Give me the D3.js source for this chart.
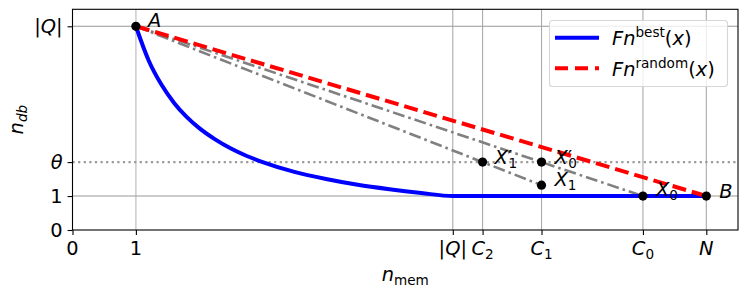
<!DOCTYPE html>
<html>
<head>
<meta charset="utf-8">
<script src="https://cdn.jsdelivr.net/npm/d3@7"></script>
<style>
  html, body { margin: 0; padding: 0; background: #fff; }
  svg text { font-family: "DejaVu Sans", sans-serif; fill: #000; }
</style>
</head>
<body>
<svg id="chart" width="748" height="295"></svg>
<script>
// ---------------- data ----------------
const xTickValues = [0, 1, 6, 6.47, 7.4, 9, 10];
const xTickLabels = ["0", "1", "|Q|", "C_2", "C_1", "C_0", "N"];
const yTickValues = [0, 1, 2, 6];
const yTickLabels = ["0", "1", "\\theta", "|Q|"];
const xDomain = [0, 10.5];
const yDomain = [0, 6.5];
const thetaValue = 2;

// Fn^best(x)
const bestX = [1, 1.2, 1.4, 1.6, 1.8, 2, 2.25, 2.5, 2.75, 3, 3.5, 4, 4.5, 5, 5.5, 6, 10];
const bestY = [6, 5, 4.29, 3.75, 3.33, 3, 2.67, 2.4, 2.18, 2, 1.71, 1.5, 1.33, 1.2, 1.09, 1, 1];
// Fn^random(x)
const randomX = [1, 10];
const randomY = [6, 1];
// grey dash-dot chords
const chord1X = [1, 9];
const chord1Y = [6, 1];
const chord2X = [1, 7.4];
const chord2Y = [6, 1.32];

// named points
const pointNames = ["A", "B", "X_0", "X'_0", "X_1", "X'_1"];
const pointX = [1, 10, 9, 7.4, 7.4, 6.47];
const pointY = [6, 1, 1, 2, 1.32, 2];

const legendLabels = ["Fn^{\\mathrm{best}}(x)", "Fn^{\\mathrm{random}}(x)"];
const xLabel = "n_{\\mathrm{mem}}";
const yLabel = "n_{db}";

// ---------------- layout ----------------
const plot = { left: 72.5, right: 738, top: 9.3, bottom: 230 };
const FS = 19.4;

const svg = d3.select("#chart");
const x = d3.scaleLinear().domain(xDomain).range([plot.left, plot.right]);
const y = d3.scaleLinear().domain(yDomain).range([plot.bottom, plot.top]);

// --- mini mathtext parser -> segments {t, italic, shift}
function parseMath(s) {
  const segs = [];
  let i = 0;
  function closeBrace(str, k) {
    let depth = 1, j = k + 1;
    while (j < str.length && depth > 0) { if (str[j] === "{") depth++; if (str[j] === "}") depth--; j++; }
    return j;
  }
  function readGroup() {
    if (s[i] === "{") { const j = closeBrace(s, i); const g = s.slice(i + 1, j - 1); i = j; return g; }
    if (s[i] === "\\") {
      let j = i + 1; while (j < s.length && /[a-zA-Z]/.test(s[j])) j++;
      const g = s.slice(i, j); i = j; return g;
    }
    const g = s[i]; i++; return g;
  }
  function emit(str, shift) {
    let k = 0;
    while (k < str.length) {
      if (str.startsWith("\\mathrm", k)) {
        k += 7; const j = closeBrace(str, k);
        segs.push({ t: str.slice(k + 1, j - 1), italic: false, shift });
        k = j; continue;
      }
      if (str.startsWith("\\theta", k)) { segs.push({ t: "θ", italic: true, shift }); k += 6; continue; }
      const c = str[k];
      segs.push({ t: c, italic: /[a-zA-Z]/.test(c), shift });
      k++;
    }
  }
  while (i < s.length) {
    const c = s[i];
    if (c === "_" || c === "^") {
      i++; const g = readGroup(); emit(g, c === "_" ? "sub" : "sup");
    } else if (c === "'") {
      segs.push({ t: "′", italic: false, shift: "prime" }); i++;
    } else if (s.startsWith("\\theta", i)) {
      emit("\\theta", null); i += 6;
    } else if (s.startsWith("\\mathrm", i)) {
      const start = i; i += 7; i = closeBrace(s, i); emit(s.slice(start, i), null);
    } else { emit(c, null); i++; }
  }
  return segs;
}

function mathText(sel, str, size) {
  const segs = parseMath(str);
  let cur = 0;
  let primeW = 0;
  segs.forEach(seg => {
    let target = 0, fs = size, dx = 0;
    if (seg.shift === "sub") { target = 0.2 * size; fs = 0.7 * size; if (primeW) dx = -primeW; }
    else if (seg.shift === "sup") { target = -0.4 * size; fs = 0.7 * size; }
    else if (seg.shift === "prime") { target = -0.02 * size; fs = size; }
    const ts = sel.append("tspan")
      .attr("dy", (target - cur).toFixed(2))
      .style("font-size", fs + "px")
      .style("font-style", seg.italic ? "italic" : "normal")
      .text(seg.t);
    if (dx) ts.attr("dx", dx.toFixed(2));
    cur = target;
    primeW = seg.shift === "prime" ? 0.2 * size : 0;
  });
  return sel;
}

// ---------------- grid / reference lines ----------------
const g = svg.append("g");

xTickValues.forEach((v, i) => {
  if (v === 0) return;
  g.append("line")
    .attr("x1", x(v)).attr("x2", x(v))
    .attr("y1", plot.top).attr("y2", plot.bottom)
    .attr("stroke", i === 1 ? "#cfcfcf" : "#aaaaaa")
    .attr("stroke-width", i === 1 ? 1.6 : 1.1);
});
[1, 6].forEach(v => {
  g.append("line")
    .attr("x1", plot.left).attr("x2", plot.right)
    .attr("y1", y(v)).attr("y2", y(v))
    .attr("stroke", "#999999").attr("stroke-width", 1.1);
});
g.append("line")
  .attr("x1", plot.left).attr("x2", plot.right)
  .attr("y1", y(thetaValue)).attr("y2", y(thetaValue))
  .attr("stroke", "#9a9a9a").attr("stroke-width", 2.2)
  .attr("stroke-dasharray", "2.2,3.4");

// ---------------- series ----------------
const line = d3.line().x(d => x(d[0])).y(d => y(d[1]));
const zip = (a, b) => a.map((v, i) => [v, b[i]]);

[[chord1X, chord1Y], [chord2X, chord2Y]].forEach(([cx, cy]) => {
  g.append("path").datum(zip(cx, cy)).attr("d", line)
    .attr("fill", "none").attr("stroke", "#808080").attr("stroke-width", 2.6)
    .attr("stroke-dasharray", "12,4,2.6,4");
});

g.append("path").datum(zip(bestX, bestY))
  .attr("d", d3.line().x(d => x(d[0])).y(d => y(d[1])).curve(d3.curveMonotoneX))
  .attr("fill", "none").attr("stroke", "#0000ff").attr("stroke-width", 4);

g.append("path").datum(zip(randomX, randomY)).attr("d", line)
  .attr("fill", "none").attr("stroke", "#ff0000").attr("stroke-width", 4)
  .attr("stroke-dasharray", "14,6");

// ---------------- points ----------------
const labelOffsets = { "A": [12, 1], "B": [13, 2], "X_0": [13, 0], "X'_0": [13, 2], "X_1": [13, 1], "X'_1": [12, 2] };
pointNames.forEach((n, i) => {
  g.append("circle").attr("cx", x(pointX[i])).attr("cy", y(pointY[i])).attr("r", 4.6).attr("fill", "#000");
  const off = labelOffsets[n];
  const t = g.append("text").attr("x", x(pointX[i]) + off[0]).attr("y", y(pointY[i]) + off[1]);
  mathText(t, n, FS);
});

// ---------------- axes ----------------
const xAxis = svg.append("g").attr("transform", `translate(0,${plot.bottom})`)
  .call(d3.axisBottom(x).tickValues(xTickValues).tickFormat("").tickSize(4.9).tickSizeOuter(0));
const yAxis = svg.append("g").attr("transform", `translate(${plot.left},0)`)
  .call(d3.axisLeft(y).tickValues(yTickValues).tickFormat("").tickSize(4.9).tickSizeOuter(0));
[xAxis, yAxis].forEach(a => {
  a.select(".domain").remove();
  a.selectAll(".tick line").attr("stroke", "#000").attr("stroke-width", 1.1);
});

svg.append("rect")
  .attr("x", plot.left).attr("y", plot.top)
  .attr("width", plot.right - plot.left).attr("height", plot.bottom - plot.top)
  .attr("fill", "none").attr("stroke", "#000").attr("stroke-width", 1.1);

xTickValues.forEach((v, i) => {
  const t = svg.append("text").attr("x", x(v)).attr("y", 255).attr("text-anchor", "middle");
  mathText(t, xTickLabels[i], FS);
});
yTickValues.forEach((v, i) => {
  const t = svg.append("text").attr("x", 62.5).attr("y", y(v) + 7).attr("text-anchor", "end");
  mathText(t, yTickLabels[i], FS);
});

mathText(svg.append("text").attr("x", (plot.left + plot.right) / 2).attr("y", 281).attr("text-anchor", "middle"), xLabel, FS);
mathText(svg.append("text").attr("transform", `translate(23,${(plot.top + plot.bottom) / 2}) rotate(-90)`).attr("text-anchor", "middle"), yLabel, FS);

// ---------------- legend ----------------
const lg = svg.append("g");
lg.append("rect").attr("x", 549.5).attr("y", 20.5).attr("width", 178).attr("height", 66).attr("rx", 3)
  .attr("fill", "#fff").attr("fill-opacity", 0.8).attr("stroke", "#d6d6d6").attr("stroke-width", 1.1);
const legendStyles = [
  { stroke: "#0000ff", dash: null },
  { stroke: "#ff0000", dash: "13,7" }
];
const legendRowY = [37.7, 68.3];
legendLabels.forEach((lab, i) => {
  const ly = legendRowY[i];
  const l = lg.append("line").attr("x1", 555).attr("x2", 599).attr("y1", ly).attr("y2", ly)
    .attr("stroke", legendStyles[i].stroke).attr("stroke-width", 4);
  if (legendStyles[i].dash) l.attr("stroke-dasharray", legendStyles[i].dash);
  mathText(lg.append("text").attr("x", 612).attr("y", ly + 7.4), lab, FS);
});
</script>
</body>
</html>
